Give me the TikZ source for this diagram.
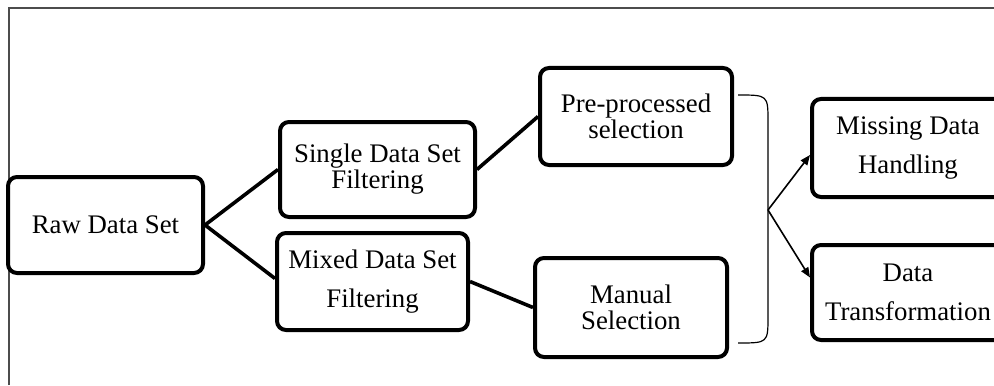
\documentclass[tikz,border=0pt]{standalone}
\usepackage{fontspec}
\setmainfont{Liberation Serif}
\usetikzlibrary{arrows.meta,calc}
\begin{document}
\begin{tikzpicture}[x=0.5pt,y=-0.5pt,
  box/.style={draw=black,line width=2pt,rounded corners=4.5pt,fill=white,
    minimum width=96pt,minimum height=48pt,inner sep=0pt,align=center,
    font=\fontsize{13.4pt}{13pt}\selectfont},
  loose/.style={font=\fontsize{13.4pt}{19.5pt}\selectfont},
  link/.style={line width=1.8pt},
  arr/.style={line width=0.8pt,-{Triangle[length=5pt,width=4pt]}},
  frame/.style={draw=black!70,line width=1pt}]
\useasboundingbox (0,0) rectangle (994,385);
\clip (0,0) rectangle (994,385);
\coordinate (fa) at (9,385);
\coordinate (fb) at (9,8);
\coordinate (fc) at (994,8);
\draw[frame] (fa) -- (fb) -- (fc);
\node[box,minimum width=97.5pt] (raw) at (105.5,225) {Raw Data Set};
\node[box,minimum width=97.5pt,minimum height=47.5pt] (single) at (377.5,169.5) {Single Data Set\\Filtering};
\node[box,loose,minimum width=95.5pt,minimum height=48.5pt] (mixed) at (372.5,281.5) {Mixed Data Set\\Filtering};
\node[box,minimum height=48.5pt] (pre) at (636,116.5) {Pre-processed\\selection};
\node[box,minimum height=49.5pt] (manual) at (631,307.5) {Manual\\Selection};
\node[box,loose,minimum height=49pt] (miss) at (908,148) {Missing Data\\Handling};
\node[box,loose,minimum height=47.5pt] (trans) at (908,292.5) {Data\\Transformation};
\draw[link] (raw.east) -- (single.west);
\draw[link] (raw.east) -- ($(mixed.west)+(0,-3)$);
\draw[link] (single.east) -- (pre.west);
\draw[link] (mixed.east) -- (manual.west);
\coordinate (bt) at (738,95);
\coordinate (bb) at (738,343);
\coordinate (tip) at (768,210);
\draw[line width=0.6pt] (bt) .. controls (768,95) .. (768,122) -- (768,316) .. controls (768,343) .. (bb);
\draw[arr] (tip) -- ($(miss.west)+(0,7)$);
\draw[arr] (tip) -- ($(trans.west)+(0,-15)$);
\end{tikzpicture}
\end{document}
